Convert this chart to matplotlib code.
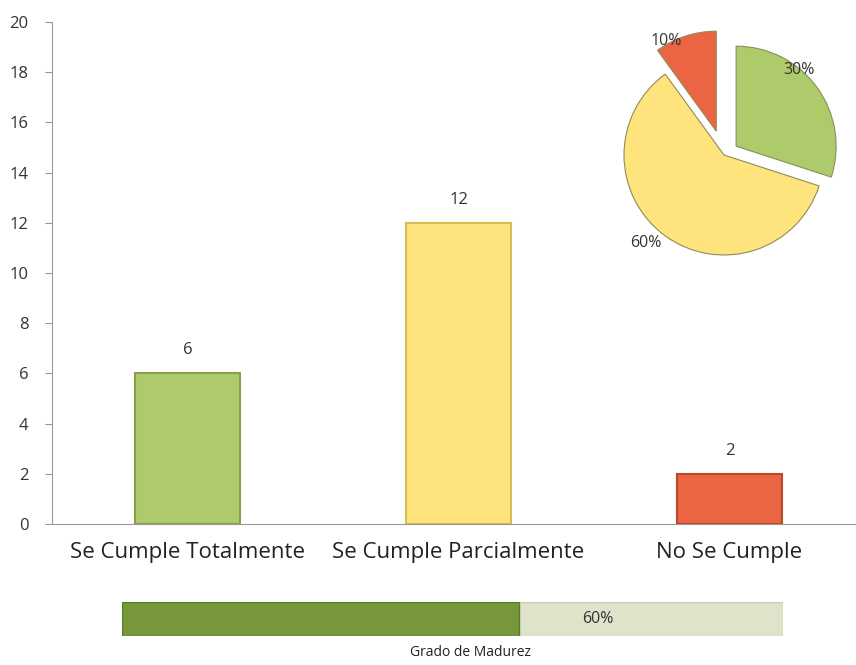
import matplotlib.pyplot as plt

categories = ["Se Cumple Totalmente", "Se Cumple Parcialmente", "No Se Cumple"]
counts = [6, 12, 2]
pie_pct = [30, 60, 10]
maturity = 60
colors = ["#AECB6C", "#FFE47E", "#EC6542"]
edges = ["#86A04C", "#D8BC52", "#B9492C"]

plt.rcParams["font.family"] = ["Open Sans", "DejaVu Sans"]

fig = plt.figure(figsize=(8.56, 6.65), dpi=100)

# bar chart
ax = fig.add_axes([52 / 856, 1 - 524 / 665, 803 / 856, 502 / 665])
x = range(len(categories))
bars = ax.bar(x, counts, width=0.384, color=colors, edgecolor=edges, linewidth=1.5)
for b, v in zip(bars, counts):
    ax.text(b.get_x() + b.get_width() / 2, v + 0.6, str(v), ha="center", va="bottom",
            fontsize=12, color="#333333")
ax.set_xlim(-0.5, 2.463)
ax.set_ylim(0, 20)
ax.set_yticks(range(0, 21, 2))
ax.set_xticks(list(x))
ax.set_xticklabels(categories, fontsize=16, color="#222222")
ax.tick_params(axis="y", labelsize=12, colors="#333333", length=5, color="#999999", pad=12)
ax.tick_params(axis="x", length=0, pad=13)
for s in ["top", "right"]:
    ax.spines[s].set_visible(False)
ax.spines["left"].set_color("#999999")
ax.spines["bottom"].set_color("#999999")

# pie
pax = fig.add_axes([604 / 856, 1 - 275 / 665, 240 / 856, 240 / 665])
wedges, texts = pax.pie(pie_pct, colors=colors, startangle=90, counterclock=False,
                        explode=[0.15, 0.0, 0.25],
                        wedgeprops=dict(edgecolor="#8C8C5A", linewidth=0.8))
pax.set_xlim(-1.2, 1.2)
pax.set_ylim(-1.2, 1.2)
pax.set_aspect("equal")
pax.axis("off")
lbl_pos = [(0.75, 0.85), (-0.78, -0.88), (-0.58, 1.14)]
for p, (lx, ly) in zip(pie_pct, lbl_pos):
    pax.text(lx, ly, f"{p}%", ha="center", va="center", fontsize=11.5, color="#333333")

# maturity bar
bax = fig.add_axes([122 / 856, 1 - 636 / 665, 661 / 856, 34 / 665])
bax.barh([0], [100], height=1, color="#DDE4C9", edgecolor="#C5CFAE")
bax.barh([0], [maturity], height=1, color="#76983A", edgecolor="#5A7A28")
bax.text(72, 0, f"{maturity}%", ha="center", va="center", fontsize=11.5, color="#333333")
bax.set_xlim(0, 100)
bax.set_ylim(-0.5, 0.5)
bax.axis("off")
fig.text(470 / 856, 1 - 653 / 665, "Grado de Madurez", ha="center", va="center",
         fontsize=10, color="#222222")

fig.savefig("out.png", dpi=100)
